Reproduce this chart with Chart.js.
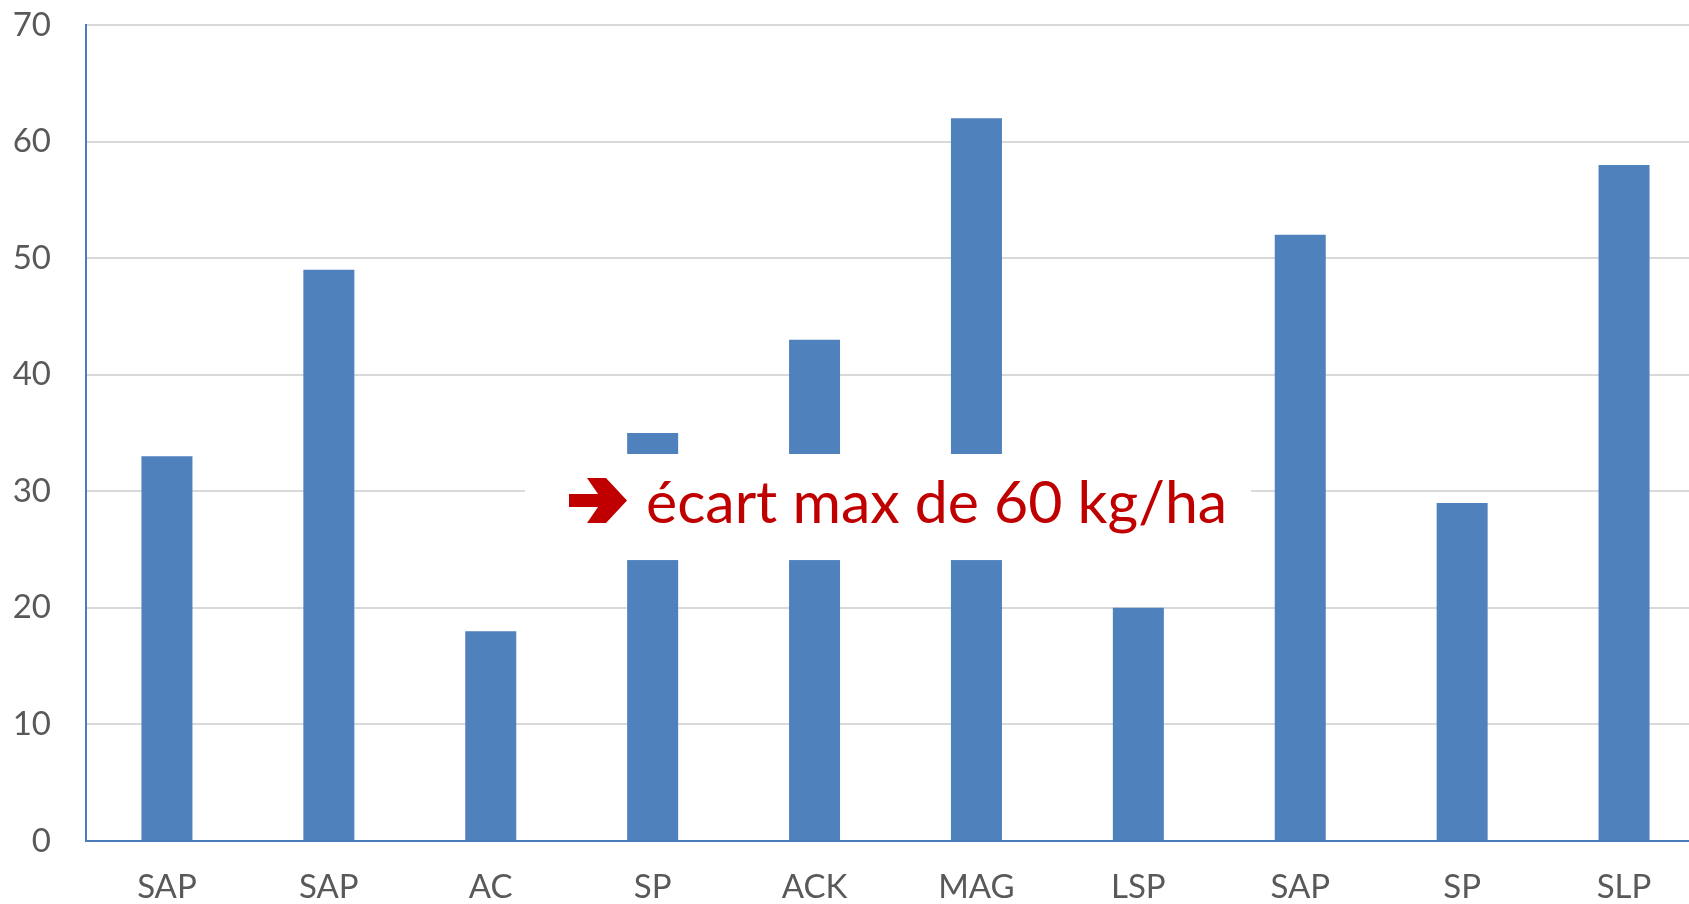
<!DOCTYPE html>
<html>
<head>
<meta charset="utf-8">
<script src="https://cdn.jsdelivr.net/npm/chart.js@4.4.1/dist/chart.umd.min.js"></script>
<style>
    html, body { margin: 0; padding: 0; background: #fff; overflow: hidden; }
    #wrap { position: absolute; left: 0; top: 0; width: 1705px; height: 904px; }
</style>
</head>
<body>
<div id="wrap"><canvas id="myChart"></canvas></div>
<script>
const labels = ['SAP', 'SAP', 'AC', 'SP', 'ACK', 'MAG', 'LSP', 'SAP', 'SP', 'SLP'];
const values = [33, 49, 18, 35, 43, 62, 20, 52, 29, 58];
const yTicks = [0, 10, 20, 30, 40, 50, 60, 70];
const note = 'écart max de 60 kg/ha';

// boite blanche + fleche + texte rouge
const notePlugin = {
    id: 'note',
    afterDatasetsDraw(chart) {
        const ctx = chart.ctx;
        const y = chart.scales.y;
        const top = y.getPixelForValue(33.2);
        const bottom = y.getPixelForValue(24.1);
        ctx.save();
        ctx.fillStyle = '#ffffff';
        ctx.fillRect(525, top, 1251 - 525, bottom - top);

        ctx.fillStyle = '#c00000';
        ctx.beginPath();
        ctx.moveTo(569, 494);
        ctx.lineTo(598, 494);
        ctx.lineTo(587, 478);
        ctx.lineTo(606, 478);
        ctx.lineTo(627, 500.5);
        ctx.lineTo(606, 523);
        ctx.lineTo(587, 523);
        ctx.lineTo(598, 507);
        ctx.lineTo(569, 507);
        ctx.closePath();
        ctx.fill();

        ctx.font = '59px Lato';
        ctx.textBaseline = 'middle';
        ctx.textAlign = 'left';
        ctx.fillText(note, 646, 504);
        ctx.restore();
    }
};

const ctx = document.getElementById('myChart').getContext('2d');
const myChart = new Chart(ctx, {
    type: 'bar',
    data: {
        labels: labels,
        datasets: [{
            data: values,
            backgroundColor: '#4f81bd',
            barPercentage: 0.315,
            categoryPercentage: 1.0
        }]
    },
    options: {
        responsive: true,
        maintainAspectRatio: false,
        animation: false,
        layout: { padding: { top: 25, right: 0, bottom: 0, left: 0 } },
        plugins: {
            legend: { display: false },
            tooltip: { enabled: false }
        },
        scales: {
            x: {
                grid: { display: false, drawTicks: false },
                border: { color: '#4a7ebb', width: 2 },
                ticks: {
                    color: '#595959',
                    font: { family: 'Lato', size: 33 },
                    padding: 27,
                    maxRotation: 0,
                    autoSkip: false
                },
                afterFit(scale) {
                    scale.height = 63;
                    scale.paddingLeft = 0;
                    scale.paddingRight = 0;
                }
            },
            y: {
                min: 0,
                max: 70,
                afterBuildTicks(scale) {
                    scale.ticks = yTicks.map(v => ({ value: v }));
                },
                grid: { color: '#d9d9d9', lineWidth: 2, drawTicks: false },
                border: { color: '#4a7ebb', width: 2 },
                ticks: {
                    color: '#595959',
                    font: { family: 'Lato', size: 33 },
                    padding: 35
                },
                afterFit(scale) {
                    scale.width = 86;
                    scale.paddingTop = 0;
                    scale.paddingBottom = 0;
                }
            }
        }
    },
    plugins: [notePlugin]
});
</script>
</body>
</html>
